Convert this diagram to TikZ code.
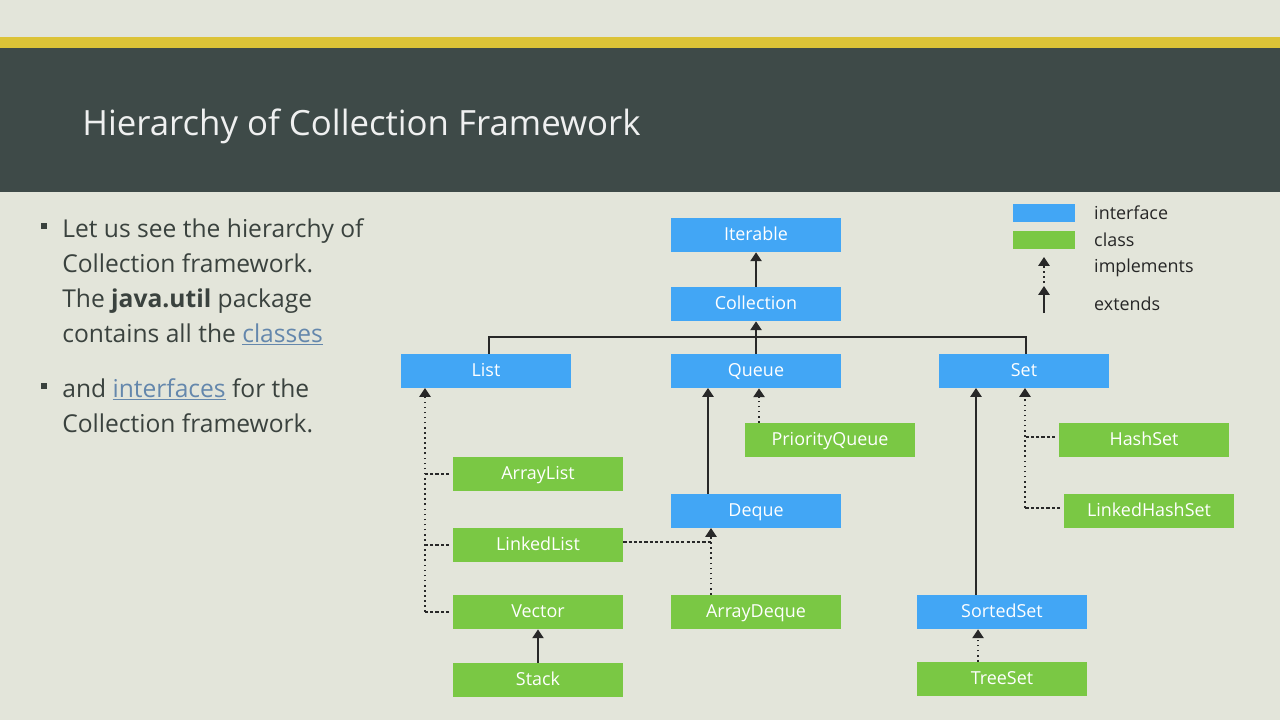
\documentclass[tikz,border=0pt]{standalone}
\usepackage{fontspec}
\setmainfont{Open Sans}
\usetikzlibrary{arrows.meta}
\definecolor{slidebg}{RGB}{227,229,218}
\definecolor{goldbar}{RGB}{220,195,55}
\definecolor{chalk}{RGB}{62,74,72}
\definecolor{ifblue}{RGB}{66,166,245}
\definecolor{clsgreen}{RGB}{122,200,68}
\definecolor{textdark}{RGB}{58,66,62}
\definecolor{linkblue}{RGB}{100,135,172}
\definecolor{wire}{RGB}{40,40,40}

\begin{document}
\begin{tikzpicture}[
  x=0.02cm, y=-0.02cm,
  box/.style={minimum width=3.4cm, minimum height=0.68cm, inner sep=0pt, text=white, text height=1.6ex, text depth=0.4ex, font=\fontsize{10.2}{11}\selectfont},
  iface/.style={box, fill=ifblue},
  cls/.style={box, fill=clsgreen},
  ext/.style={-{Triangle[width=6.4pt,length=5pt]}, wire, line width=0.9pt},
  impl/.style={-{Triangle[width=6.4pt,length=5pt]}, wire, dotted, line width=0.9pt},
  tie/.style={wire, dash pattern=on 1.8pt off 1.2pt, line width=0.7pt, shorten <=2pt},
  keytext/.style={anchor=west, text=black!85, font=\fontsize{10.2}{11}\selectfont},
]
% slide background
\fill[slidebg] (0,0) rectangle (1280,720);
\fill[goldbar] (0,37) rectangle (1280,48);
\fill[chalk] (0,48) rectangle (1280,192);
\useasboundingbox (0,0) rectangle (1280,720);

% title
\node[anchor=base west, inner sep=0pt, text=white!92!chalk, font=\fontsize{19.8}{22}\selectfont] (title) at (82,135) {Hierarchy of Collection Framework};

% bullet text
\node[fill=textdark, minimum size=0.12cm, inner sep=0pt] (dot1) at (44,226) {};
\node[fill=textdark, minimum size=0.12cm, inner sep=0pt] (dot2) at (44,386) {};
\node[anchor=base west, inner sep=0pt, align=left, text=textdark, font=\fontsize{14}{19.85}\selectfont] (para1) at (62,342)
  {Let us see the hierarchy of\\Collection framework.\\The \textbf{java.util} package\\contains all the {\color{linkblue}\underline{classes}}};
\node[anchor=base west, inner sep=0pt, align=left, text=textdark, font=\fontsize{14}{19.85}\selectfont] (para2) at (62,432)
  {and {\color{linkblue}\underline{interfaces}} for the\\Collection framework.};

% legend
\node[iface, minimum width=1.24cm, minimum height=0.34cm] (keyif) at (1044,213) {};
\node[cls, minimum width=1.24cm, minimum height=0.34cm] (keycls) at (1044,240) {};
\coordinate (impltop) at (1044,257);
\coordinate (implbot) at (1044,283);
\coordinate (exttop) at (1044,286);
\coordinate (extbot) at (1044,313);
\draw[impl] (implbot) -- (impltop);
\draw[ext] (extbot) -- (exttop);
\node[keytext] (keyiftxt) at (1088,213) {interface};
\node[keytext] (keyclstxt) at (1088,240) {class};
\node[keytext] (keyimpltxt) at (1088,268) {implements};
\node[keytext] (keyexttxt) at (1088,304) {extends};

% interfaces
\node[iface] (iterable) at (756,235) {Iterable};
\node[iface] (collection) at (756,304) {Collection};
\node[iface] (list) at (486,371) {List};
\node[iface] (queue) at (756,371) {Queue};
\node[iface] (set) at (1024,371) {Set};
\node[iface] (deque) at (756,511) {Deque};
\node[iface] (sortedset) at (1002,612) {SortedSet};

% classes
\node[cls] (prioq) at (830,440) {PriorityQueue};
\node[cls] (arraylist) at (538,474) {ArrayList};
\node[cls] (linkedlist) at (538,545) {LinkedList};
\node[cls] (vector) at (538,612) {Vector};
\node[cls] (stack) at (538,680) {Stack};
\node[cls] (arraydeque) at (756,612) {ArrayDeque};
\node[cls] (hashset) at (1144,440) {HashSet};
\node[cls] (lhset) at (1149,511) {LinkedHashSet};
\node[cls] (treeset) at (1002,679) {TreeSet};

% top of the tree
\coordinate (bus) at (756,337);
\draw[ext] (collection.north) -- (iterable.south);
\draw[ext] (queue.north) -- (collection.south);
\draw[wire, line width=0.9pt] ([xshift=0.06cm]list.north) |- (bus) -| ([xshift=0.04cm]set.north);

% list branch
\coordinate (listin) at (425,388);
\draw[impl] (vector.west -| listin) -- (listin);
\foreach \c in {arraylist, linkedlist, vector}
  \draw[tie] (\c.west) -- (\c.west -| listin);
\draw[ext] (stack.north) -- (vector.south);

% queue branch
\coordinate (queueext) at (708,388);
\coordinate (dequein) at (711,528);
\draw[ext] (deque.north -| queueext) -- (queueext);
\draw[impl] ([xshift=0.06cm]prioq.north -| queue.south) -- ([xshift=0.06cm]queue.south);
\draw[impl] (arraydeque.north -| dequein) -- (dequein);
\draw[tie, shorten <=0pt] ([yshift=0.06cm]linkedlist.east) -- ([yshift=0.06cm]linkedlist.east -| dequein);

% set branch
\coordinate (setext) at (976,388);
\coordinate (setin) at (1025,388);
\draw[ext] (sortedset.north -| setext) -- (setext);
\draw[impl] ([yshift=0.06cm]lhset.west -| setin) -- (setin);
\draw[tie] ([yshift=0.06cm]hashset.west) -- ([yshift=0.06cm]hashset.west -| setin);
\draw[tie] ([yshift=0.06cm]lhset.west) -- ([yshift=0.06cm]lhset.west -| setin);
\draw[impl] ([xshift=-0.48cm]treeset.north) -- ([xshift=-0.48cm]sortedset.south);
\end{tikzpicture}
\end{document}
